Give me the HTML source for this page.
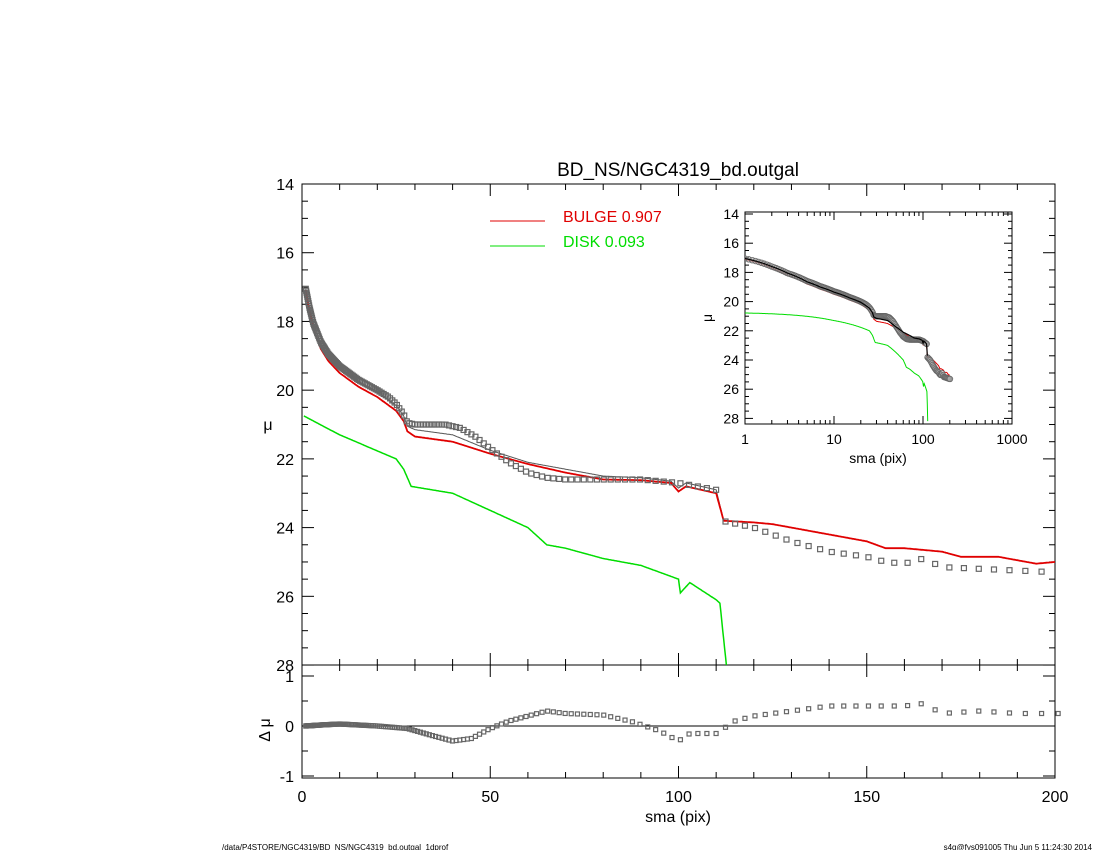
<!DOCTYPE html>
<html><head><meta charset="utf-8"><style>
body{margin:0;background:#fff;}
svg text{font-family:"Liberation Sans",sans-serif;}
</style></head><body>
<svg id="s" width="1100" height="850" xmlns="http://www.w3.org/2000/svg"></svg>
<script>
const S=document.getElementById('s');let h='';
const X=s=>302+s*3.765, Y=m=>184+(m-14)*34.36, R=d=>726-d*50;
function interp(p,s){if(s<=p[0][0])return p[0][1];for(let i=1;i<p.length;i++){if(s<=p[i][0]){const a=p[i-1],b=p[i];return a[1]+(b[1]-a[1])*(s-a[0])/(b[0]-a[0]);}}return p[p.length-1][1];}
const data=[[1,17.05],[2,17.6],[3,18.05],[5,18.6],[7,18.95],[10,19.3],[15,19.7],[20,20.0],[23,20.2],[25,20.4],[27,20.7],[28,20.95],[30,21.0],[33,21.0],[38,21.0],[42,21.1],[46,21.35],[50,21.7],[55,22.1],[60,22.4],[65,22.55],[70,22.6],[80,22.6],[90,22.6],[100,22.7],[110,22.9],[111.5,23.8],[120,24.0],[130,24.4],[140,24.7],[150,24.85],[155,25.0],[160,25.05],[165,24.9],[170,25.15],[180,25.2],[200,25.3]];
const bul=[[1,17.1],[2,17.7],[3,18.2],[5,18.8],[7,19.15],[10,19.5],[15,19.9],[20,20.2],[25,20.6],[27,20.9],[28,21.2],[30,21.35],[40,21.5],[50,21.85],[60,22.15],[70,22.4],[80,22.6],[90,22.62],[98,22.7],[100,22.95],[102,22.8],[110,23.0],[112,23.8],[120,23.85],[125,23.9],[130,24.0],[140,24.2],[150,24.4],[155,24.6],[160,24.6],[170,24.7],[175,24.85],[185,24.85],[195,25.05],[200,25.0]];
const tot=[[1,17.05],[2,17.6],[3,18.05],[5,18.65],[7,19.0],[10,19.35],[15,19.75],[20,20.05],[25,20.45],[27,20.75],[28,21.05],[30,21.15],[40,21.3],[50,21.75],[60,22.1],[70,22.3],[80,22.5],[90,22.55],[98,22.65],[100,22.85],[102,22.7],[110,22.9],[112,23.8]];
const disk=[[0.5,20.75],[10,21.3],[25,22.0],[27,22.3],[29,22.8],[40,23.0],[50,23.5],[60,24.0],[65,24.5],[70,24.6],[80,24.9],[90,25.1],[100,25.5],[100.5,25.9],[103,25.6],[110,26.1],[111,26.2],[113,28.3]];
const res=[[1,0],[5,0.02],[10,0.04],[20,0.0],[28,-0.05],[35,-0.2],[40,-0.3],[45,-0.25],[50,-0.05],[55,0.1],[60,0.2],[65,0.3],[70,0.25],[80,0.22],[88,0.08],[95,-0.1],[100,-0.3],[103,-0.15],[110,-0.15],[115,0.1],[120,0.2],[130,0.3],[140,0.4],[150,0.4],[160,0.4],[165,0.45],[170,0.25],[180,0.3],[190,0.25],[200,0.25]];
function line(p,col,w,fx,fy){let pts=[];for(let s=p[0][0];s<=p[p.length-1][0];s+=0.25)pts.push(fx(s).toFixed(1)+','+fy(interp(p,s)).toFixed(1));return `<polyline fill="none" stroke="${col}" stroke-width="${w}" points="${pts.join(' ')}"/>`;}
h+=`<rect x="302" y="184" width="753" height="481" fill="none" stroke="#000"/>`;
h+=`<rect x="302" y="665" width="753" height="113" fill="none" stroke="#000"/>`;
for(let m=14;m<=28;m+=0.5){const y=Y(m),L=(m%2==0)?12:6;h+=`<line x1="302" y1="${y}" x2="${302+L}" y2="${y}" stroke="#000"/><line x1="1055" y1="${y}" x2="${1055-L}" y2="${y}" stroke="#000"/>`;if(m%2==0)h+=`<text x="294" y="${y+6}" font-size="16" text-anchor="end">${m}</text>`;}
for(let s=0;s<=200;s+=10){const x=X(s),L=(s%50==0)?12:6;h+=`<line x1="${x}" y1="184" x2="${x}" y2="${184+L}" stroke="#000"/><line x1="${x}" y1="665" x2="${x}" y2="${665-L}" stroke="#000"/><line x1="${x}" y1="778" x2="${x}" y2="${778-L}" stroke="#000"/><line x1="${x}" y1="665" x2="${x}" y2="${665+L}" stroke="#000"/>`;if(s%50==0)h+=`<text x="${x}" y="802" font-size="16" text-anchor="middle">${s}</text>`;}
for(let d=-1;d<=1;d+=0.5){const y=R(d),L=(d%1==0)?12:6;h+=`<line x1="302" y1="${y}" x2="${302+L}" y2="${y}" stroke="#000"/><line x1="1055" y1="${y}" x2="${1055-L}" y2="${y}" stroke="#000"/>`;if(d%1==0)h+=`<text x="294" y="${y+6}" font-size="16" text-anchor="end">${d}</text>`;}
h+=`<line x1="302" y1="726" x2="1055" y2="726" stroke="#000"/>`;
h+=`<text x="268" y="430" font-size="16" text-anchor="middle">μ</text>`;
h+=`<text x="270" y="730" font-size="16" text-anchor="middle" transform="rotate(-90 270 730)">Δ μ</text>`;
h+=`<text x="678" y="822" font-size="16" text-anchor="middle">sma (pix)</text>`;
h+=`<text x="678" y="176" font-size="19" text-anchor="middle">BD_NS/NGC4319_bd.outgal</text>`;
h+=`<svg x="302" y="184" width="753" height="481" overflow="hidden"><g transform="translate(-302,-184)">`;
h+=line(disk,'#00dd00',1.5,X,Y);h+=line(tot,'#555',1,X,Y);h+=line(bul,'#e00000',1.8,X,Y);
let sx=[];for(let s=1;s<=201;s+=0.08+s*0.022)sx.push(s);
for(const s of sx)h+=`<rect x="${X(s)-2.5}" y="${Y(interp(data,s))-2.5}" width="5" height="5" fill="none" stroke="#666" stroke-width="1.2"/>`;
h+=`</g></svg>`;
for(const s of sx)h+=`<rect x="${X(s)-2}" y="${R(interp(res,s))-2}" width="4" height="4" fill="none" stroke="#666" stroke-width="1.2"/>`;
h+=`<line x1="490" y1="221" x2="545" y2="221" stroke="#e00000"/><text x="563" y="222" font-size="16" fill="#e00000">BULGE  0.907</text>`;
h+=`<line x1="490" y1="246" x2="545" y2="246" stroke="#00dd00"/><text x="563" y="247" font-size="16" fill="#00dd00">DISK  0.093</text>`;
const IX=s=>745+Math.log10(s)*89, IY=m=>214+(m-14)*14.6;
h+=`<rect x="745" y="212" width="267" height="212" fill="#fff" stroke="#000"/>`;
for(let m=14;m<=28;m+=0.5){const y=IY(m),L=(m%2==0)?8:4;h+=`<line x1="745" y1="${y}" x2="${745+L}" y2="${y}" stroke="#000"/><line x1="1012" y1="${y}" x2="${1012-L}" y2="${y}" stroke="#000"/>`;if(m%2==0)h+=`<text x="739" y="${y+5}" font-size="14" text-anchor="end">${m}</text>`;}
for(let e=0;e<3;e++)for(let k=1;k<=10;k++){const x=IX(k*Math.pow(10,e)),L=(k==1||k==10)?8:4;h+=`<line x1="${x}" y1="212" x2="${x}" y2="${212+L}" stroke="#000"/><line x1="${x}" y1="424" x2="${x}" y2="${424-L}" stroke="#000"/>`;}
[1,10,100,1000].forEach(v=>h+=`<text x="${IX(v)}" y="444" font-size="14" text-anchor="middle">${v}</text>`);
h+=`<text x="878" y="463" font-size="14" text-anchor="middle">sma (pix)</text><text x="708" y="322" font-size="14" text-anchor="middle" transform="rotate(-90 708 318)">μ</text>`;
h+=`<svg x="745" y="212" width="267" height="212" overflow="hidden"><g transform="translate(-745,-212)">`;
function lline(p,col,w){let pts=[];for(let s=Math.max(1,p[0][0]);s<=p[p.length-1][0];s*=1.01)pts.push(IX(s).toFixed(1)+','+IY(interp(p,s)).toFixed(1));return `<polyline fill="none" stroke="${col}" stroke-width="${w}" points="${pts.join(' ')}"/>`;}
h+=lline(disk,'#00dd00',1);h+=lline(bul,'#e00000',1);
for(const s of sx)h+=`<circle cx="${IX(s)}" cy="${IY(interp(data,s))}" r="2.8" fill="#aaa" fill-opacity="0.5" stroke="#666" stroke-width="0.8"/>`;
h+=lline(tot,'#000',1.2);
h+=`</g></svg>`;
h+=`<text x="222" y="850" font-size="8">/data/P4STORE/NGC4319/BD_NS/NGC4319_bd.outgal_1dprof</text>`;
h+=`<text x="1092" y="850" font-size="8" text-anchor="end">s4g@fys091005  Thu Jun  5 11:24:30 2014</text>`;
S.innerHTML=h;
</script></body></html>
